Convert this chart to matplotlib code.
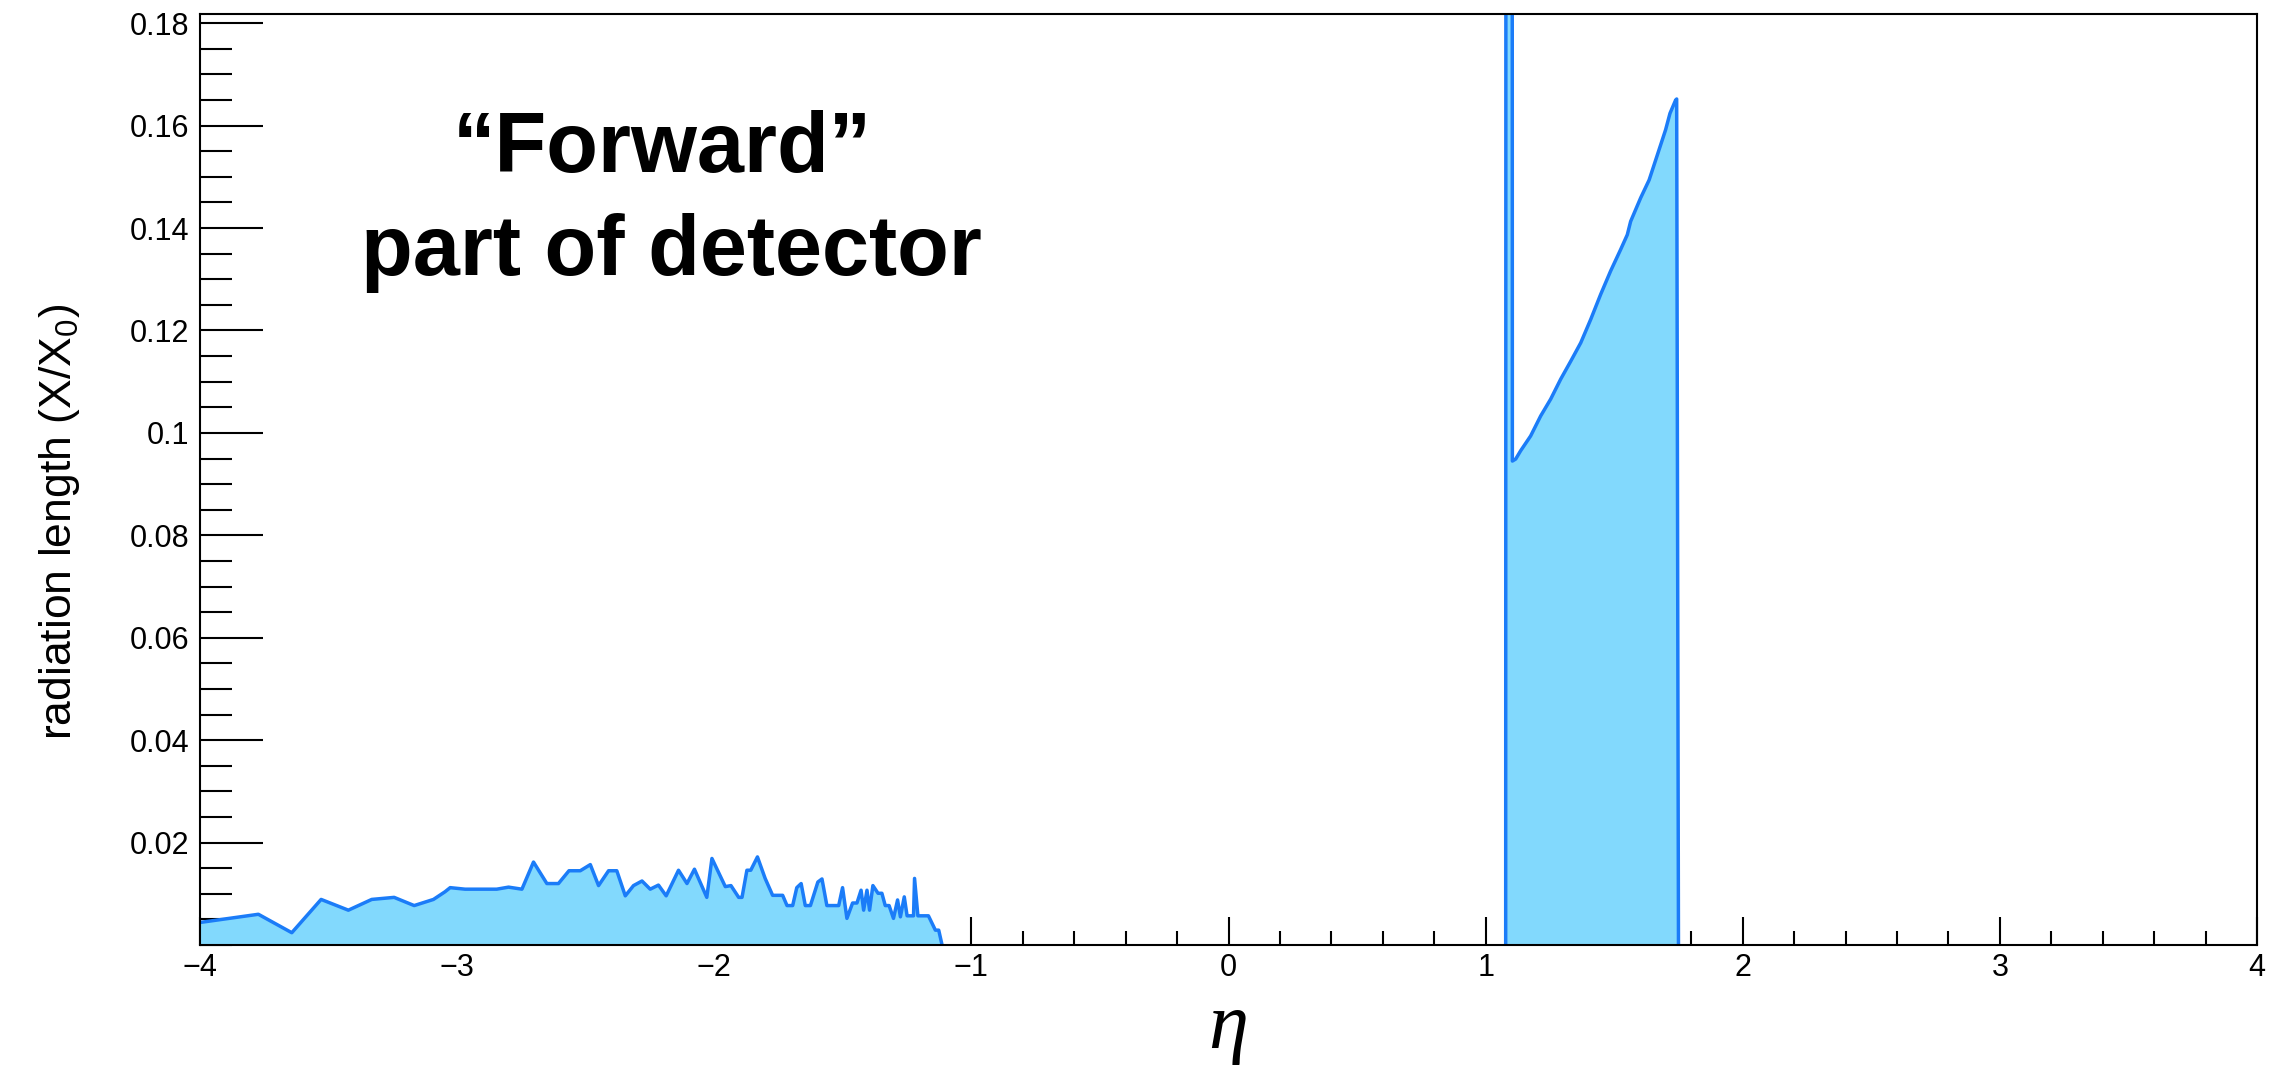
import matplotlib
matplotlib.use("Agg")
import matplotlib.pyplot as plt
from matplotlib.ticker import MultipleLocator, FixedLocator, FuncFormatter

plt.rcParams['font.family'] = ['Liberation Sans', 'DejaVu Sans']
plt.rcParams['mathtext.fontset'] = 'custom'
plt.rcParams['mathtext.rm'] = 'Liberation Sans'
plt.rcParams['mathtext.it'] = 'Liberation Sans:italic'

# ---- data ----
left_eta = [-4.0, -3.773, -3.643, -3.529, -3.423, -3.332, -3.245, -3.167, -3.092, -3.047,
            -3.027, -2.969, -2.846, -2.800, -2.748, -2.703, -2.651, -2.606, -2.565, -2.521,
            -2.482, -2.450, -2.411, -2.379, -2.346, -2.314, -2.281, -2.249, -2.217, -2.187,
            -2.139, -2.106, -2.077, -2.029, -2.009, -1.957, -1.935, -1.905, -1.892, -1.873,
            -1.858, -1.832, -1.802, -1.773, -1.734, -1.717, -1.695, -1.679, -1.662, -1.646,
            -1.626, -1.597, -1.581, -1.562, -1.516, -1.501, -1.484, -1.462, -1.445, -1.429,
            -1.419, -1.406, -1.396, -1.383, -1.363, -1.348, -1.335, -1.320, -1.303, -1.287,
            -1.276, -1.261, -1.250, -1.225, -1.221, -1.208, -1.167, -1.140, -1.127, -1.114]
left_val = [0.0044, 0.0060, 0.0024, 0.0089, 0.0068, 0.0089, 0.0093, 0.0077, 0.0089, 0.0104,
            0.0112, 0.0109, 0.0109, 0.0113, 0.0109, 0.0162, 0.0120, 0.0120, 0.0145, 0.0145,
            0.0157, 0.0116, 0.0145, 0.0145, 0.0096, 0.0116, 0.0125, 0.0109, 0.0117, 0.0096,
            0.0146, 0.0120, 0.0148, 0.0093, 0.0169, 0.0114, 0.0116, 0.0093, 0.0093, 0.0146,
            0.0146, 0.0172, 0.0130, 0.0097, 0.0097, 0.0077, 0.0077, 0.0112, 0.0120, 0.0077,
            0.0077, 0.0123, 0.0129, 0.0077, 0.0077, 0.0112, 0.0052, 0.0082, 0.0082, 0.0107,
            0.0068, 0.0107, 0.0068, 0.0116, 0.0101, 0.0101, 0.0077, 0.0077, 0.0052, 0.0088,
            0.0055, 0.0094, 0.0057, 0.0057, 0.0130, 0.0057, 0.0057, 0.0029, 0.0029, 0.0]

right_eta = [1.078, 1.080, 1.102, 1.104, 1.117, 1.136, 1.175, 1.214, 1.253, 1.292,
             1.331, 1.370, 1.409, 1.447, 1.486, 1.525, 1.551, 1.564, 1.603, 1.636,
             1.668, 1.700, 1.717, 1.739, 1.743, 1.750]
right_val = [0.0, 0.5, 0.5, 0.0945, 0.0949, 0.0965, 0.0994, 0.1033, 0.1066, 0.1105,
             0.1140, 0.1176, 0.1222, 0.1270, 0.1316, 0.1358, 0.1387, 0.1413, 0.1459, 0.1494,
             0.1543, 0.1592, 0.1624, 0.1650, 0.1652, 0.0]

y_major = [0.02, 0.04, 0.06, 0.08, 0.10, 0.12, 0.14, 0.16, 0.18]
x_major = [-4, -3, -2, -1, 0, 1, 2, 3, 4]

xlabel_text = "η"
ylabel_text = r"radiation length (X/X$_{\mathrm{0}}$)"
note_line1 = "\u201cForward\u201d"
note_line2 = "part of detector"

fill_color = "#82D9FD"
line_color = "#1B7CF8"

# ---- figure ----
fig = plt.figure(figsize=(22.8, 10.7), dpi=100)
W, H = 2280, 1070
x0, x1, y0, y1 = 200, 2257, 945, 14
ax = fig.add_axes([x0 / W, (H - y0) / H, (x1 - x0) / W, (y0 - y1) / H])

for eta, val in ((left_eta, left_val), (right_eta, right_val)):
    ax.fill_between(eta, val, 0, color=fill_color, linewidth=0, zorder=2)
    ax.plot(eta, val, color=line_color, linewidth=2.5, zorder=3)

ax.set_xlim(-4, 4)
ax.set_ylim(0, 0.1818)

ax.xaxis.set_major_locator(FixedLocator(x_major))
ax.xaxis.set_minor_locator(MultipleLocator(0.2))
ax.yaxis.set_major_locator(FixedLocator(y_major))
ax.yaxis.set_minor_locator(MultipleLocator(0.005))
ax.yaxis.set_major_formatter(FuncFormatter(lambda v, p: "%g" % round(v, 3)))

for s in ax.spines.values():
    s.set_linewidth(1.5)
    s.set_color("black")
    s.set_zorder(5)

ax.tick_params(axis='both', which='both', direction='in', width=1.5, colors='black',
               top=False, right=False, labelsize=22)
ax.tick_params(axis='x', which='major', length=20, pad=6)
ax.tick_params(axis='x', which='minor', length=10)
ax.tick_params(axis='y', which='major', length=45, pad=8)
ax.tick_params(axis='y', which='minor', length=23)

ax.set_xlabel(xlabel_text, fontfamily='Liberation Serif', fontstyle='italic', fontsize=58)
ax.xaxis.label.set_va('baseline')
ax.xaxis.set_label_coords(0.5, (y0 - 1048) / (y0 - y1))

ax.set_ylabel(ylabel_text, fontsize=32)
ax.yaxis.set_label_coords((82 - x0) / (x1 - x0), (y0 - 522) / (y0 - y1))

ax.text((662 - x0) / (x1 - x0), (y0 - 172) / (y0 - y1), note_line1, transform=ax.transAxes,
        ha='center', va='baseline', fontsize=61, fontweight='bold', zorder=6)
ax.text((671 - x0) / (x1 - x0), (y0 - 275) / (y0 - y1), note_line2, transform=ax.transAxes,
        ha='center', va='baseline', fontsize=61, fontweight='bold', zorder=6)

fig.savefig("out.png", dpi=100)
